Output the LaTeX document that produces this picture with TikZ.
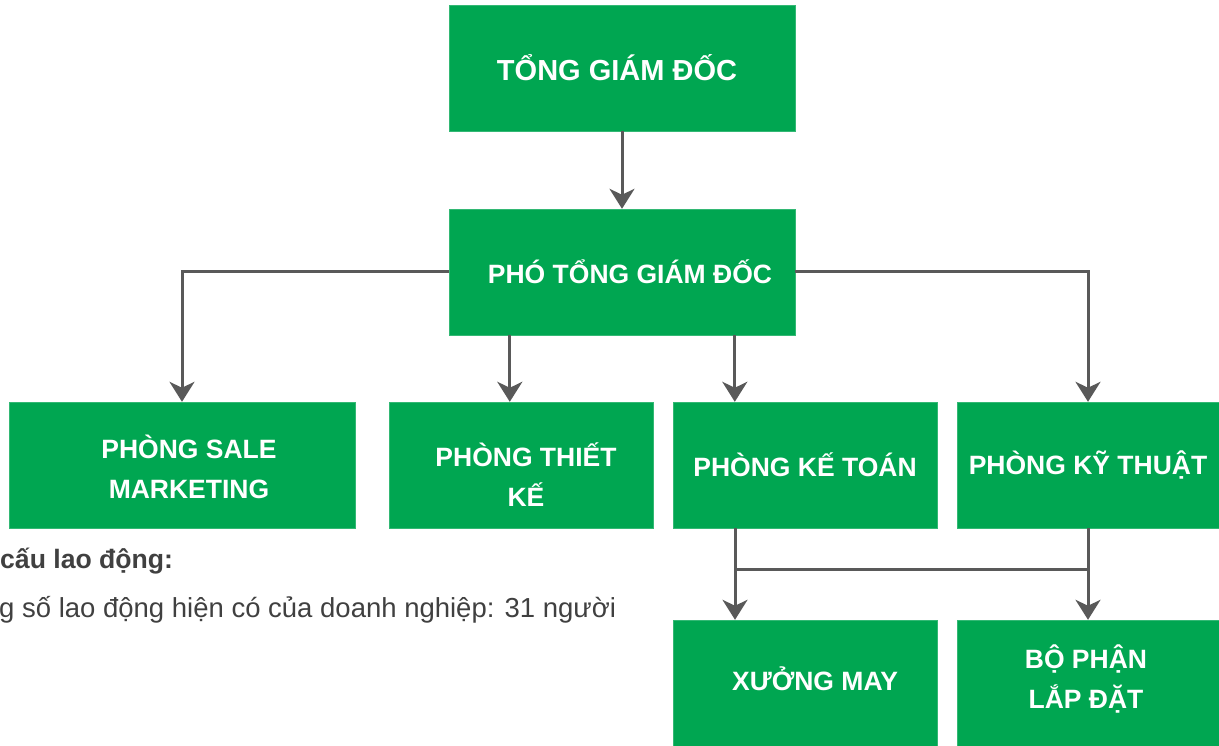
\documentclass[tikz,border=0pt]{standalone}
\usepackage{fontspec}
\setmainfont{Liberation Sans}
\usetikzlibrary{arrows.meta,calc}
\definecolor{boxgreen}{HTML}{00A651}
\definecolor{linegray}{HTML}{595959}
\definecolor{textgray}{HTML}{404040}
\tikzset{
    unit/.style={draw=boxgreen!80!white, fill=boxgreen, text=white, inner sep=0pt,
        font=\bfseries\fontsize{26.5}{40}\selectfont, align=center},
    arr/.style={draw=linegray, line width=3pt, -{Stealth[length=20pt,width=25pt,inset=6pt]}},
    link/.style={draw=linegray, line width=3pt}
}
\begin{document}
\begin{tikzpicture}[x=1pt,y=-1pt]
		\useasboundingbox (0,0) rectangle (1219,746);

		% top level
		\node[unit, minimum width=346pt, minimum height=126pt, font=\bfseries\fontsize{29}{40}\selectfont] (tgd) at (622,68) {TỔNG GIÁM ĐỐC\hspace*{10pt}};
		\node[unit, minimum width=346pt, minimum height=126pt] (ptgd) at (622,272) {\hspace*{16pt}PHÓ TỔNG GIÁM ĐỐC};

		% departments
		\node[unit, minimum width=346pt, minimum height=126pt] (sale) at (182,465) {\hspace*{14pt}PHÒNG SALE\rule{0pt}{28pt}\\\hspace*{14pt}MARKETING};
		\node[unit, minimum width=264pt, minimum height=126pt] (thietke) at (521,465) {\hspace*{10pt}PHÒNG THIẾT\rule{0pt}{42pt}\\\hspace*{10pt}KẾ};
		\node[unit, minimum width=264pt, minimum height=126pt] (ketoan) at (805,465) {PHÒNG KẾ TOÁN};
		\node[unit, minimum width=262pt, minimum height=126pt] (kythuat) at (1088,465) {PHÒNG KỸ THUẬT};

		\node[unit, minimum width=264pt, minimum height=126pt] (xuong) at (805,683) {\hspace*{20pt}XƯỞNG MAY\rule[-8pt]{0pt}{8pt}};
		\node[unit, minimum width=262pt, minimum height=126pt] (lapdat) at (1088,683) {BỘ PHẬN\hspace*{4pt}\\LẮP ĐẶT\hspace*{4pt}\rule[-12pt]{0pt}{12pt}};

		% text below
		\node[anchor=west, inner sep=0pt, text=textgray, font=\bfseries\fontsize{26.6}{30}\selectfont] (cocau) at (0,561) {cấu lao động:};
		\node[anchor=west, inner sep=0pt, text=textgray, font=\fontsize{27.5}{30}\selectfont] (tongso) at (-1,610) {g số lao động hiện có của doanh nghiệp: 31 người};

		% arrows
		\draw[arr] (tgd) -- (ptgd);
		\draw[arr] (ptgd.west) -| (sale.north);
		\draw[arr] (ptgd.east) -| (kythuat.north);
		\draw[arr] ([xshift=61pt]ptgd.south west) -- ([xshift=61pt]ptgd.south west |- thietke.north);
		\draw[arr] ([xshift=286pt]ptgd.south west) -- ([xshift=286pt]ptgd.south west |- ketoan.north);

		\coordinate (kt) at ([xshift=-70pt]ketoan.south);
		\draw[arr] (kt) -- (kt |- xuong.north);
		\draw[arr] (kythuat.south) -- (lapdat.north);
		\draw[link] ($(kt)+(0,41)$) -- ($(kythuat.south)+(0,41)$);
    \end{tikzpicture}
\end{document}
